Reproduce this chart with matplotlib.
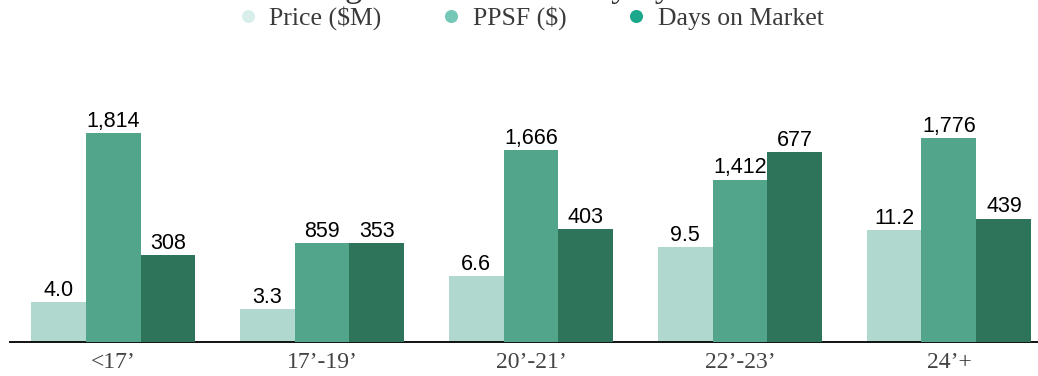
import numpy as np
import matplotlib.pyplot as plt
from matplotlib.lines import Line2D

# =========================================================
# DONNEES
# =========================================================

categories = ["<17’", "17’-19’", "20’-21’", "22’-23’", "24’+"]
price_m = [4.0, 3.3, 6.6, 9.5, 11.2]
ppsf = [1814, 859, 1666, 1412, 1776]
days_on_market = [308, 353, 403, 677, 439]

series_names = ["Price ($M)", "PPSF ($)", "Days on Market"]
bar_colors = ["#b0d8ce", "#52a58a", "#2e745b"]
legend_colors = ["#d8eeea", "#76c8b6", "#1aa78a"]

TITLE = "Pricing & Market Activity by Width"

# =========================================================
# FIGURE
# =========================================================

W, H = 1038, 376
fig = plt.figure(figsize=(W / 100, H / 100), dpi=100)

# axes en pixels : de x=10 a x=1038, de y=342 (base) a y=40
ax = fig.add_axes([10 / W, (H - 342) / H, 1028 / W, 302 / H])
ax2 = ax.twinx()
ax3 = ax.twinx()

x = np.arange(len(categories))
bw = 0.263

# chaque serie a sa propre echelle
ax.set_ylim(0, 30.2)
ax2.set_ylim(0, 302 / 0.1150)
ax3.set_ylim(0, 302 / 0.281)

series = [
    (ax, price_m, "{:.1f}"),
    (ax2, ppsf, "{:,.0f}"),
    (ax3, days_on_market, "{:,.0f}"),
]

for i, (a, vals, fmt) in enumerate(series):
    bars = a.bar(x + (i - 1) * bw, vals, width=bw, color=bar_colors[i],
                 edgecolor="none", zorder=2)
    for b, v in zip(bars, vals):
        a.annotate(fmt.format(v),
                   (b.get_x() + b.get_width() / 2, b.get_height()),
                   xytext=(0, 4.5), textcoords="offset points",
                   ha="center", va="baseline",
                   fontsize=15.5, family="Liberation Sans", color="black")

for a in (ax, ax2, ax3):
    a.set_xlim(-0.493, 4.426)
    a.set_yticks([])
    for s in ["top", "right", "left"]:
        a.spines[s].set_visible(False)
    a.spines["bottom"].set_visible(a is ax)
    a.patch.set_visible(False)

ax.spines["bottom"].set_linewidth(1.4)
ax.spines["bottom"].set_color("#111111")
ax.set_xticks(x)
ax.set_xticklabels(categories, fontsize=17, family="Liberation Serif",
                   color="#444444")
ax.tick_params(axis="x", length=0, pad=7)

# =========================================================
# LEGENDE + TITRE (coupe en haut)
# =========================================================

handles = [Line2D([0], [0], linestyle="none", marker="o", markersize=9.4,
                  markerfacecolor=c, markeredgecolor="none")
           for c in legend_colors]
fig.legend(handles, series_names, loc="center", ncol=3,
           bbox_to_anchor=(0.511, 1 - 18 / H), frameon=False,
           prop={"family": "Liberation Serif", "size": 18.5},
           labelcolor="#3a3a3a", handlelength=0.8, handletextpad=0.45,
           columnspacing=2.3, borderpad=0, borderaxespad=0)

fig.text(262 / W, 1 + 4 / H, TITLE, ha="left", va="baseline",
         fontsize=25, family="Liberation Serif", color="#333333")

fig.savefig("out.png", dpi=100)
